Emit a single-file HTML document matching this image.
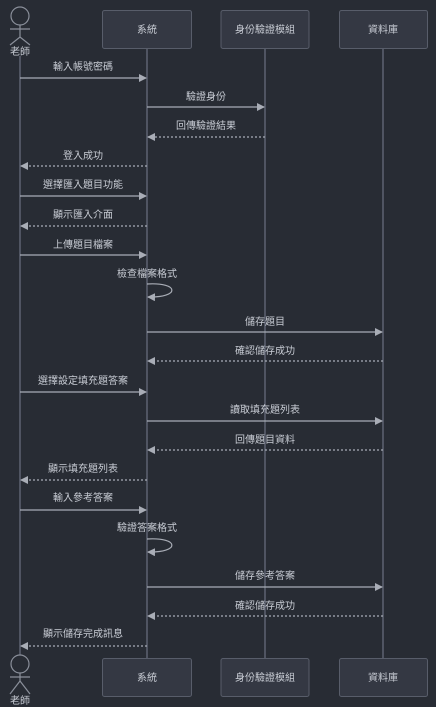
<!DOCTYPE html>
<html><head><meta charset="utf-8"><style>
html,body{margin:0;padding:0;background:#282c34;}
svg{display:block;}
text{font-family:"Liberation Sans","Noto Sans CJK TC",sans-serif;font-size:10px;fill:#c8ccd4;text-anchor:middle;}
</style></head><body>
<svg width="436" height="707" viewBox="0 0 436 707" xmlns="http://www.w3.org/2000/svg">
<defs>
<marker id="a" markerWidth="8" markerHeight="8" refX="7" refY="4" orient="auto" markerUnits="userSpaceOnUse">
<path d="M0,0 L8,4 L0,8 z" fill="#a9adb6"/></marker>
</defs>
<rect width="436" height="707" fill="#282c34"/>
<g stroke="#6b7080" stroke-width="1.2">
<line x1="20" y1="56" x2="20" y2="655"/>
<line x1="147" y1="48" x2="147" y2="658"/>
<line x1="265" y1="48" x2="265" y2="658"/>
<line x1="383" y1="48" x2="383" y2="658"/>
</g>
<g fill="#343843" stroke="#585d6a" stroke-width="1">
<rect x="102.5" y="10.5" width="89" height="38" rx="2"/>
<rect x="221" y="10.5" width="88" height="38" rx="2"/>
<rect x="339.5" y="10.5" width="88" height="38" rx="2"/>
<rect x="102.5" y="658.5" width="89" height="38" rx="2"/>
<rect x="221" y="658.5" width="88" height="38" rx="2"/>
<rect x="339.5" y="658.5" width="88" height="38" rx="2"/>
</g>
<text x="147" y="33">系統</text><text x="265" y="33">身份驗證模組</text><text x="383" y="33">資料庫</text>
<text x="147" y="681">系統</text><text x="265" y="681">身份驗證模組</text><text x="383" y="681">資料庫</text>
<g stroke="#8a8f9a" stroke-width="1.2" fill="none">
<circle cx="20" cy="16" r="9"/><line x1="20" y1="25" x2="20" y2="37"/><line x1="10" y1="29" x2="30" y2="29"/>
<path d="M10,45 L20,37 L30,45"/>
<circle cx="20" cy="664" r="9"/><line x1="20" y1="673" x2="20" y2="681"/><line x1="10" y1="677" x2="30" y2="677"/>
<path d="M10,694 L20,681 L30,694"/>
</g>
<text x="20" y="55">老師</text><text x="20" y="704">老師</text>
<g stroke="#a9adb6" stroke-width="1.2" fill="none">
<line x1="20" y1="78" x2="146" y2="78" marker-end="url(#a)"/>
<line x1="147" y1="107" x2="264" y2="107" marker-end="url(#a)"/>
<line x1="265" y1="137" x2="148" y2="137" stroke-dasharray="2,2" marker-end="url(#a)"/>
<line x1="147" y1="166" x2="21" y2="166" stroke-dasharray="2,2" marker-end="url(#a)"/>
<line x1="20" y1="196" x2="146" y2="196" marker-end="url(#a)"/>
<line x1="147" y1="226" x2="21" y2="226" stroke-dasharray="2,2" marker-end="url(#a)"/>
<line x1="20" y1="255" x2="146" y2="255" marker-end="url(#a)"/>
<path d="M147,284 C180,282 180,298 148,297" marker-end="url(#a)"/>
<line x1="147" y1="332" x2="382" y2="332" marker-end="url(#a)"/>
<line x1="383" y1="361" x2="148" y2="361" stroke-dasharray="2,2" marker-end="url(#a)"/>
<line x1="20" y1="392" x2="146" y2="392" marker-end="url(#a)"/>
<line x1="147" y1="421" x2="382" y2="421" marker-end="url(#a)"/>
<line x1="383" y1="450" x2="148" y2="450" stroke-dasharray="2,2" marker-end="url(#a)"/>
<line x1="147" y1="480" x2="21" y2="480" stroke-dasharray="2,2" marker-end="url(#a)"/>
<line x1="20" y1="510" x2="146" y2="510" marker-end="url(#a)"/>
<path d="M147,539 C180,537 180,553 148,552" marker-end="url(#a)"/>
<line x1="147" y1="587" x2="382" y2="587" marker-end="url(#a)"/>
<line x1="383" y1="616" x2="148" y2="616" stroke-dasharray="2,2" marker-end="url(#a)"/>
<line x1="147" y1="646" x2="21" y2="646" stroke-dasharray="2,2" marker-end="url(#a)"/>
</g>
<text x="83" y="70">輸入帳號密碼</text>
<text x="206" y="100">驗證身份</text>
<text x="206" y="129">回傳驗證結果</text>
<text x="83" y="159">登入成功</text>
<text x="83" y="188">選擇匯入題目功能</text>
<text x="83" y="218">顯示匯入介面</text>
<text x="83" y="248">上傳題目檔案</text>
<text x="147" y="277">檢查檔案格式</text>
<text x="265" y="325">儲存題目</text>
<text x="265" y="354">確認儲存成功</text>
<text x="83" y="384">選擇設定填充題答案</text>
<text x="265" y="413">讀取填充題列表</text>
<text x="265" y="443">回傳題目資料</text>
<text x="83" y="472">顯示填充題列表</text>
<text x="83" y="501">輸入參考答案</text>
<text x="147" y="531">驗證答案格式</text>
<text x="265" y="579">儲存參考答案</text>
<text x="265" y="609">確認儲存成功</text>
<text x="83" y="637">顯示儲存完成訊息</text>
</svg>
</body></html>
